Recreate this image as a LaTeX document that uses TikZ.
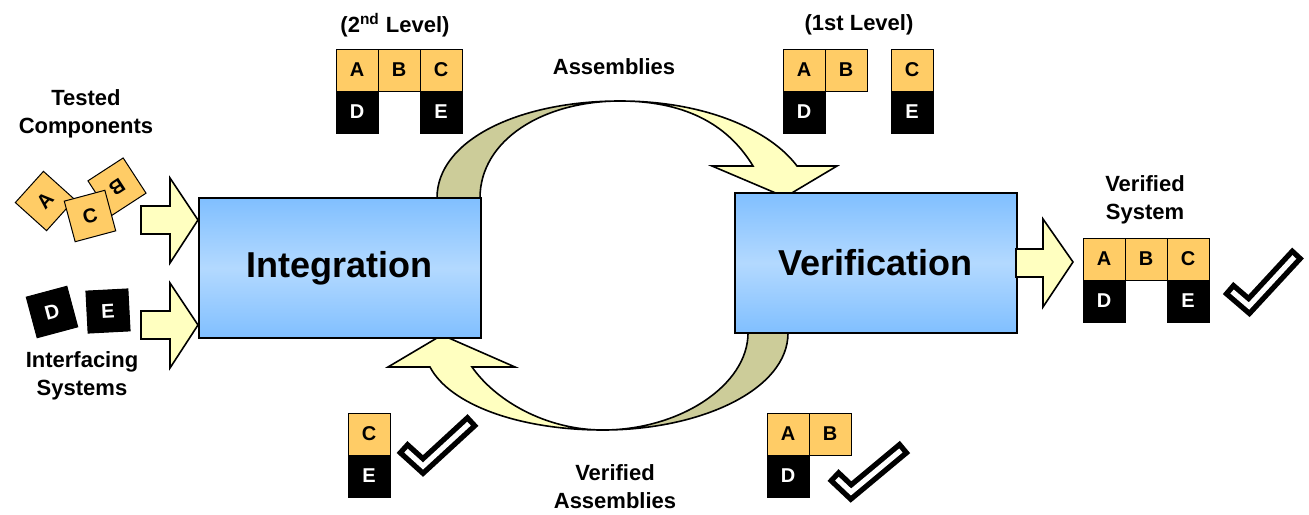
\documentclass[tikz,border=0pt]{standalone}
\usepackage{fontspec}
\setmainfont{Liberation Sans}
\usetikzlibrary{positioning}
\definecolor{cellor}{HTML}{FFCC66}
\definecolor{arrylw}{HTML}{FFFFC0}
\definecolor{arrolv}{HTML}{CCCC99}
\definecolor{boxtop}{HTML}{80BFFF}
\definecolor{boxmid}{HTML}{B3D9FF}
\tikzset{
  cell/.style={draw, line width=0.5pt, fill=cellor, minimum width=21pt, minimum height=21pt, inner sep=0pt, outer sep=0pt, font=\fontsize{10}{12}\selectfont\bfseries},
  blk/.style={cell, fill=black, text=white},
  stage/.style={draw, line width=1pt, top color=boxtop, bottom color=boxtop, middle color=boxmid, minimum width=141pt, minimum height=70pt, font=\fontsize{18}{20}\selectfont\bfseries},
  lbl/.style={align=center, font=\fontsize{11}{14}\selectfont\bfseries},
  blockarr/.style={draw, line width=0.8pt, fill=arrylw, line join=miter},
  tickb/.style={line width=8pt, line join=miter},
  tickw/.style={white, line width=2.6pt, line join=miter, shorten <=2.7pt, shorten >=2.7pt}
}
\begin{document}
\begin{tikzpicture}[x=0.5pt, y=-0.5pt]
    \useasboundingbox (0,0) rectangle (1309,514);
    % loop arrows (behind the boxes)
    \draw[blockarr, fill=arrolv] (437,198) .. controls (437,140) and (519,101) .. (620,101)
      .. controls (543,101) and (480,140) .. (480,198) -- cycle;
    \draw[blockarr] (620,101) .. controls (705,101) and (770,130) .. (797,166) -- (837,166) -- (785,197)
      -- (712,166) -- (753,166) .. controls (730,128) and (690,101) .. (620,101) -- cycle;
    \draw[blockarr, fill=arrolv] (788,333) .. controls (788,390) and (700,430) .. (603,430)
      .. controls (680,430) and (748,385) .. (748,333) -- cycle;
    \draw[blockarr] (603,430) .. controls (520,430) and (450,405) .. (430,367) -- (388,367) -- (442,335)
      -- (515,367) -- (472,367) .. controls (495,400) and (545,430) .. (603,430) -- cycle;
    % stages
    \node[stage] (integ) at (339.5,268) {Integration};
    \node[stage] (verif) at (875.5,263) {Verification};
    % inputs
    \draw[blockarr] (141,206) -- (170,206) -- (170,178) -- (198,220) -- (170,263) -- (170,234) -- (141,234) -- cycle;
    \draw[blockarr] (141,311) -- (170,311) -- (170,283) -- (198,325) -- (170,368) -- (170,339) -- (141,339) -- cycle;
    \draw[blockarr] (1016,249) -- (1043,249) -- (1043,219) -- (1073,262) -- (1043,307) -- (1043,277) -- (1016,277) -- cycle;
    \node[cell, rotate=48] (ta) at (45,201) {A};
    \node[cell, rotate=-147] (tb) at (117,187) {B};
    \node[cell, rotate=15] (tc) at (90,216) {C};
    \node[blk, rotate=15] (td) at (52,312) {D};
    \node[blk, rotate=3] (te) at (108,311) {E};
    % labels
    \node[lbl] (tested) at (86,114) {Tested\\Components};
    \node[lbl] (iface) at (82,376) {Interfacing\\Systems};
    \node[lbl] (lvl2) at (395,25) {(2\textsuperscript{nd} Level)};
    \node[lbl] (lvl1) at (859,25) {(1st Level)};
    \node[lbl] (assy) at (614,67) {Assemblies};
    \node[lbl] (vassy) at (615,487) {Verified\\Assemblies};
    \node[lbl] (vsys) at (1145,200) {Verified\\System};
    % 2nd level
    \node[cell] (a2) at (357,70) {A};
    \node[cell, right=0pt of a2] (b2) {B};
    \node[cell, right=0pt of b2] (c2) {C};
    \node[blk, below=0pt of a2] (d2) {D};
    \node[blk, below=0pt of c2] (e2) {E};
    % 1st level
    \node[cell] (a1) at (804,70) {A};
    \node[cell, right=0pt of a1] (b1) {B};
    \node[cell, right=12pt of b1] (c1) {C};
    \node[blk, below=0pt of a1] (d1) {D};
    \node[blk, below=0pt of c1] (e1) {E};
    % verified system
    \node[cell] (as) at (1104,259) {A};
    \node[cell, right=0pt of as] (bs) {B};
    \node[cell, right=0pt of bs] (cs) {C};
    \node[blk, below=0pt of as] (ds) {D};
    \node[blk, below=0pt of cs] (es) {E};
    % verified assemblies
    \node[cell] (cv) at (369,434) {C};
    \node[blk, below=0pt of cv] (ev) {E};
    \node[cell] (av) at (788,434) {A};
    \node[cell, right=0pt of av] (bv) {B};
    \node[blk, below=0pt of av] (dv) {D};
    % ticks
    \draw[tickb] (1228,288) -- (1249,306) -- (1298,253);
    \draw[tickw] (1228,288) -- (1249,306) -- (1298,253);
    \draw[tickb] (402,447) -- (423,466) -- (473,420);
    \draw[tickw] (402,447) -- (423,466) -- (473,420);
    \draw[tickb] (833,475) -- (851,492) -- (905,447);
    \draw[tickw] (833,475) -- (851,492) -- (905,447);
\end{tikzpicture}
\end{document}
